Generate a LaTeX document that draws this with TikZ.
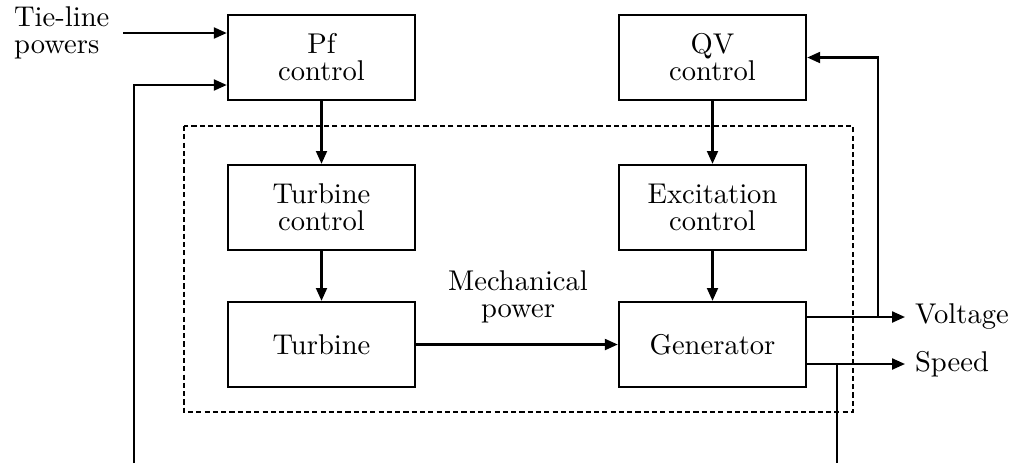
\documentclass[tikz,border=0pt]{standalone}
\usetikzlibrary{arrows.meta}
\begin{document}
\begin{tikzpicture}[x=0.35pt, y=-0.35pt,
  every node/.style={font=\fontsize{10}{9.5}\selectfont},
  block/.style={draw, line width=0.8pt, minimum width=65.5pt,
    minimum height=29.75pt, align=center, inner sep=0pt},
  link/.style={line width=0.8pt, -{Triangle[length=4.5pt,width=3.8pt]}},
  wire/.style={line width=0.8pt}]
  \useasboundingbox (0,0) rectangle (1013,463);

  % dashed plant boundary
  \draw[line width=0.6pt, dash pattern=on 1.8pt off 1.1pt]
    (184,126) rectangle (853,412);

  % blocks
  \node[block] (pf)  at (321.5,57.5)  {Pf\\control};
  \node[block] (qv)  at (712.5,57.5)  {QV\\control};
  \node[block] (tc)  at (321.5,207.5) {Turbine\\control};
  \node[block] (ec)  at (712.5,207.5) {Excitation\\control};
  \node[block] (tb)  at (321.5,344.5) {Turbine};
  \node[block] (gen) at (712.5,344.5) {Generator};

  % signal labels
  \node[anchor=west, align=left] (tie) at (4,33) {Tie-line\\powers};
  \node[align=center] (mech) at (518,297) {Mechanical\\power};
  \node[anchor=west] (volt) at (905,317) {Voltage};
  \node[anchor=west] (spd)  at (905,364) {Speed};

  % forward path
  \draw[link] (pf) -- (tc);
  \draw[link] (tc) -- (tb);
  \draw[link] (qv) -- (ec);
  \draw[link] (ec) -- (gen);
  \draw[link] (tb) -- (gen);
  \draw[link] ([xshift=1.4pt]tie.east) -- (tie.east -| pf.west);
  \draw[link] (gen.east |- volt) -- (volt.west);
  \draw[link] (gen.east |- spd) -- (spd.west);

  % feedback taps
  \coordinate (vtap) at (878,317);
  \coordinate (stap) at (837,364);
  \coordinate (sdn)  at (837,463);
  \coordinate (fbl)  at (134,463);
  \coordinate (fbt)  at (134,85);
  \draw[link] (vtap) |- (qv.east);
  \draw[wire] (stap) -- (sdn);
  \draw[link] (fbl) -- (fbt) -- (fbt -| pf.west);
\end{tikzpicture}
\end{document}
